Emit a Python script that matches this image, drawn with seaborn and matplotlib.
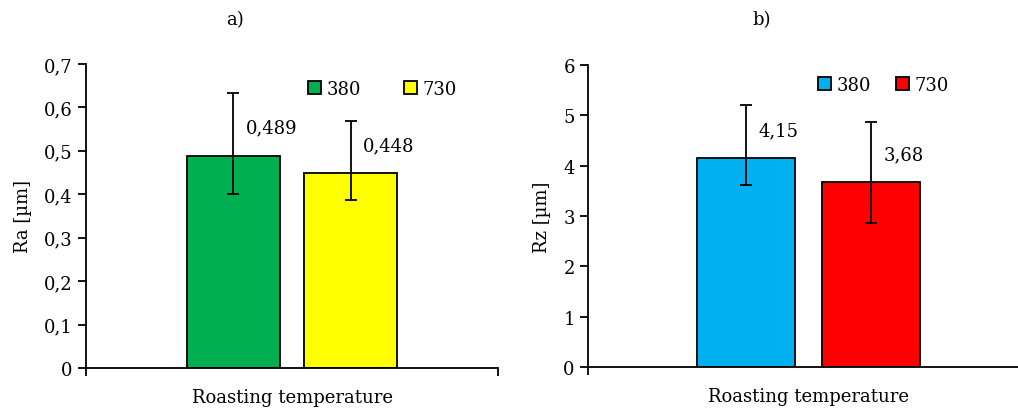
import pandas as pd
import seaborn as sns
import matplotlib.pyplot as plt
from matplotlib.patches import Patch

temps = ['380', '730']
ra_mean = [0.489, 0.448]
ra_upper = [0.633, 0.568]
ra_lower = [0.400, 0.387]
ra_labels = ['0,489', '0,448']
rz_mean = [4.15, 3.68]
rz_upper = [5.21, 4.87]
rz_lower = [3.61, 2.87]
rz_labels = ['4,15', '3,68']
ra_colors = ['#00b050', '#ffff00']
rz_colors = ['#00b0f0', '#ff0000']

sns.set_theme(style='white')
plt.rcParams['font.family'] = ['DejaVu Serif']
plt.rcParams['font.size'] = 13
plt.rcParams['text.color'] = 'black'
plt.rcParams['axes.labelcolor'] = 'black'
plt.rcParams['xtick.color'] = 'black'
plt.rcParams['ytick.color'] = 'black'

fig = plt.figure(figsize=(10.18, 4.1), dpi=100)
ax1 = fig.add_axes([0.0845, 0.1, 0.4047, 0.7415])
ax2 = fig.add_axes([0.5776, 0.1024, 0.4332, 0.7366])


def panel(ax, mean, upper, lower, labels, colors, ymax, yticks, ticklabels,
          ylabel, width, gap, leg_anchor, colspace):
    df = pd.DataFrame({'grp': ['t', 't'], 'temp': temps, 'val': mean})
    sns.barplot(data=df, x='grp', y='val', hue='temp', palette=colors,
                width=width, gap=gap, saturation=1, edgecolor='black',
                linewidth=1.3, errorbar=None, legend=False, ax=ax)
    bars = ax.patches[:2]
    for b, m, u, l, lab in zip(bars, mean, upper, lower, labels):
        xc = b.get_x() + b.get_width() / 2
        ax.errorbar(xc, m, yerr=[[m - l], [u - m]], fmt='none', ecolor='black',
                    elinewidth=1.3, capsize=4.5, capthick=1.3, zorder=5)
        ax.annotate(lab, (xc, m), xytext=(9, 20), textcoords='offset points',
                    ha='left', va='center', fontsize=13)
    ax.set_xlim(-0.5, 0.5)
    ax.set_ylim(0, ymax)
    ax.set_yticks(yticks)
    ax.set_yticklabels(ticklabels)
    ax.set_xticks([-0.5, 0.5])
    ax.set_xticklabels(['', ''])
    ax.set_xlabel('Roasting temperature', fontsize=13, labelpad=5)
    ax.set_ylabel(ylabel, fontsize=13, labelpad=9)
    for s in ['top', 'right']:
        ax.spines[s].set_visible(False)
    for s in ['left', 'bottom']:
        ax.spines[s].set_color('black')
        ax.spines[s].set_linewidth(1.3)
    ax.tick_params(axis='both', direction='out', length=6, width=1.3,
                   color='black', labelsize=13, left=True, bottom=True)
    handles = [Patch(facecolor=c, edgecolor='black', linewidth=1.3) for c in colors]
    ax.legend(handles, temps, ncol=2, loc='center left', bbox_to_anchor=leg_anchor,
              frameon=False, handlelength=0.7, handleheight=0.7,
              handletextpad=0.3, columnspacing=colspace, borderpad=0,
              borderaxespad=0, fontsize=13)


panel(ax1, ra_mean, ra_upper, ra_lower, ra_labels, ra_colors, 0.7,
      [0, 0.1, 0.2, 0.3, 0.4, 0.5, 0.6, 0.7],
      ['0', '0,1', '0,2', '0,3', '0,4', '0,5', '0,6', '0,7'],
      'Ra [µm]', 0.57, 0.207, (0.54, 0.918), 2.4)
panel(ax2, rz_mean, rz_upper, rz_lower, rz_labels, rz_colors, 6,
      [0, 1, 2, 3, 4, 5, 6], ['0', '1', '2', '3', '4', '5', '6'],
      'Rz [µm]', 0.567, 0.215, (0.522, 0.934), 1.4)

fig.text(235 / 1018, 1 - 20 / 410, 'a)', ha='center', va='center', fontsize=13)
fig.text(762 / 1018, 1 - 20 / 410, 'b)', ha='center', va='center', fontsize=13)

fig.savefig('out.png', dpi=100)
